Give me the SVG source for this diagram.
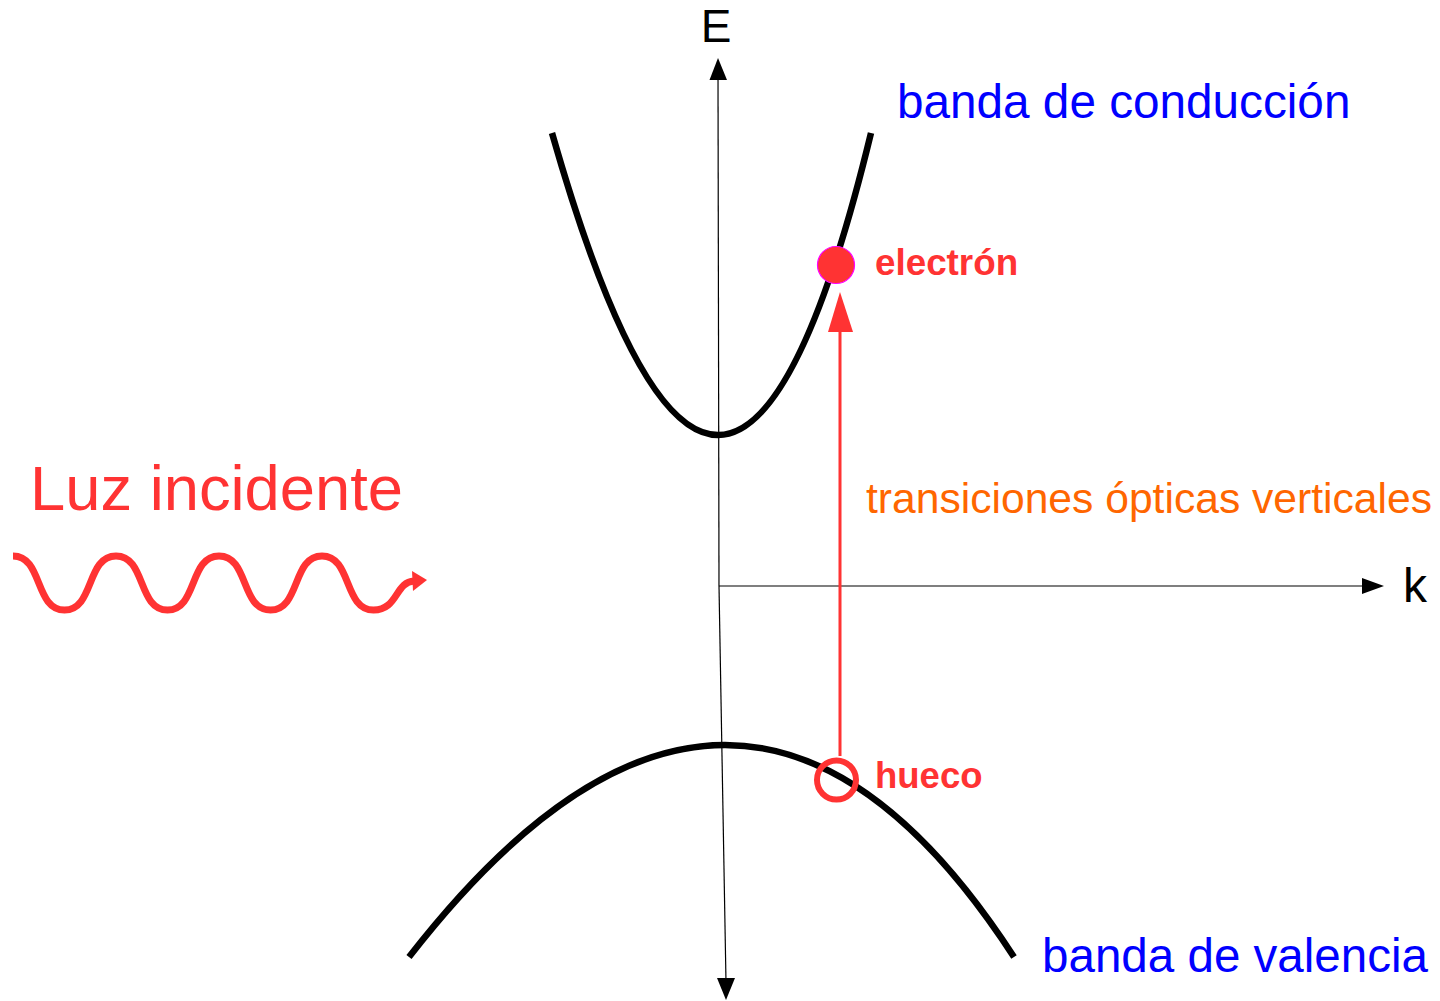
<svg xmlns="http://www.w3.org/2000/svg" width="1440" height="1001" viewBox="0 0 1440 1001">
<style>
  .band { fill: none; stroke: #000; stroke-width: 6.5; stroke-linecap: butt; }
  .axis { fill: none; stroke: #000; stroke-width: 1.2; }
  .head { fill: #000; }
  .lbl { font-family: "Liberation Sans", Arial, sans-serif; }
  .blue { fill: #0000ff; font-size: 47.7px; }
  .red { fill: #ff3333; }
</style>
<rect width="1440" height="1001" fill="#fff"/>
<g id="axes">
  <line class="axis" x1="719" y1="586" x2="718" y2="76"/>
  <polygon class="head" points="718,58 709.5,80 727,80"/>
  <line class="axis" x1="719" y1="586" x2="726" y2="982"/>
  <polygon class="head" points="726,1000 717,978 735,978"/>
  <line class="axis" x1="719" y1="586" x2="1366" y2="586"/>
  <polygon class="head" points="1384,586 1362,578 1362,594"/>
</g>
<g id="conduction-band">
  <path class="band" d="M552,133 Q724.5,737 871,133"/>
</g>
<g id="valence-band">
  <path class="band" d="M409,957 Q738.5,533 1014,957"/>
</g>
<g id="connectors">
  <line x1="840" y1="756" x2="840" y2="328" stroke="#ff3333" stroke-width="3"/>
  <polygon points="840,292 828,332 853,332" fill="#ff3333"/>
</g>
<g id="electron">
  <circle cx="836" cy="265" r="18.5" fill="#ff3333" stroke="#ff00ff" stroke-width="1.2"/>
  <text class="lbl red" x="875" y="275" font-size="36.8" font-weight="bold">electrón</text>
</g>
<g id="hole">
  <circle cx="836.5" cy="780" r="19.5" fill="none" stroke="#ff3333" stroke-width="6"/>
  <text class="lbl red" x="875" y="788" font-size="36.5" font-weight="bold">hueco</text>
</g>
<g id="light">
  <path d="M13,556 C43,556 34.5,610 64.5,610 C94.5,610 86,556 116,556 C146,556 137.5,610 167.5,610 C197.5,610 189,556 219,556 C249,556 240.5,610 270.5,610 C300.5,610 292,556 322,556 C352,556 343.5,610 373.5,610 C398,610 395,582 414,581" fill="none" stroke="#ff3333" stroke-width="7"/>
  <polygon points="427,580 412,571 413,591" fill="#ff3333"/>
  <text class="lbl red" x="30" y="510" font-size="63.3">Luz incidente</text>
</g>
<g id="labels">
  <text class="lbl" x="716" y="42" font-size="46" text-anchor="middle" fill="#000">E</text>
  <text class="lbl" x="1403" y="602" font-size="48" fill="#000">k</text>
  <text class="lbl blue" x="897" y="118">banda de conducción</text>
  <text class="lbl blue" x="1042" y="972" textLength="386" lengthAdjust="spacingAndGlyphs">banda de valencia</text>
  <text class="lbl" x="866" y="513" font-size="42" fill="#ff6600" textLength="566" lengthAdjust="spacingAndGlyphs">transiciones ópticas verticales</text>
</g>
</svg>
